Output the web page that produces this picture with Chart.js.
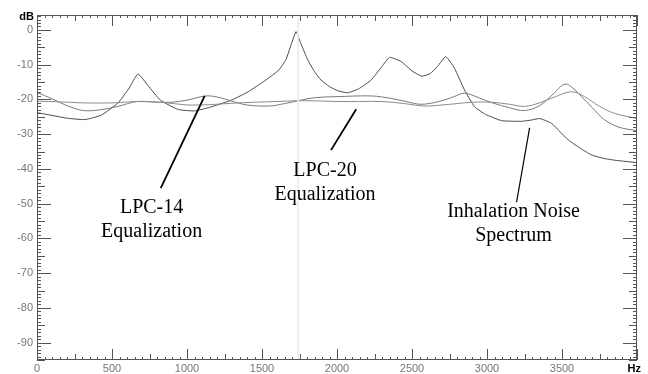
<!DOCTYPE html>
<html>
<head>
<meta charset="utf-8">
<script src="https://cdn.jsdelivr.net/npm/chart.js@4/dist/chart.umd.min.js"></script>
<style>
  html, body { margin: 0; padding: 0; background: #fff; }
  #wrap { width: 648px; height: 374px; }
</style>
</head>
<body>
<div id="wrap"><canvas id="spec" width="648" height="374"></canvas></div>
<script>
// spectrum of the inhalation noise and the two LPC equalization curves

const xTicks = [0, 500, 1000, 1500, 2000, 2500, 3000, 3500];
const yTicks = [0, -10, -20, -30, -40, -50, -60, -70, -80, -90];

// inhalation noise spectrum (the peaky one)
const specHz = [0, 100, 200, 320, 430, 540, 610, 673, 740, 822, 942, 1050, 1150, 1290, 1400, 1493,
    1570, 1613, 1660, 1700, 1727, 1760, 1805, 1850, 1893, 1950, 2005, 2072, 2150, 2228, 2300, 2350,
    2428, 2500, 2565, 2620, 2670, 2725, 2783, 2850, 2917, 2990, 3097, 3230, 3300, 3353, 3431, 3480,
    3543, 3620, 3698, 3780, 3853, 4000];
const specDb = [-23.8, -24.6, -25.4, -25.8, -24.5, -21, -17, -12.7, -16, -20.2, -22.9, -23.3, -22.3, -20.3, -18, -15.4,
    -13, -11.5, -8.5, -3.5, -0.5, -4, -8.6, -12, -14.4, -16.3, -17.5, -18.1, -16.8, -14.4, -10.5, -7.9,
    -9.1, -11.8, -13.3, -12.6, -10.5, -7.7, -11, -17.3, -22.1, -24.3, -26.1, -26.3, -25.9, -25.5, -26.9, -29,
    -31.7, -34, -36, -37, -37.5, -38.2];

// LPC-14 equalization
const lpc14Hz = [0, 100, 200, 310, 420, 540, 668, 800, 900, 1000, 1125, 1200, 1300, 1400, 1550, 1650,
    1750, 1850, 2000, 2230, 2360, 2460, 2560, 2680, 2780, 2850, 2950, 3030, 3150, 3250, 3350, 3440,
    3520, 3580, 3630, 3700, 3785, 3880, 4000];
const lpc14Db = [-18, -19.8, -21.8, -23.2, -23, -22, -20.6, -20.8, -20.8, -20.2, -19, -19.3, -20.5, -21.6, -21.9, -21.2,
    -20.3, -19.5, -19.2, -19, -19.7, -20.6, -21.4, -20.6, -19.2, -18.2, -19.6, -20.9, -22.4, -23.2, -21.8, -18.5,
    -15.6, -17, -19.2, -22.3, -25.9, -28, -29];

// LPC-20 equalization
const lpc20Hz = [0, 150, 310, 500, 668, 850, 1000, 1150, 1300, 1450, 1600, 1714, 1850, 2000, 2150, 2300,
    2450, 2580, 2700, 2800, 2900, 3030, 3150, 3250, 3350, 3450, 3563, 3650, 3750, 3850, 4000];
const lpc20Db = [-20.5, -20.7, -21, -21, -20.6, -20.9, -21.6, -21.5, -21.1, -20.8, -20.6, -20.4, -20.4, -20.6, -20.6, -20.6,
    -21.2, -21.9, -21.6, -21.2, -20.8, -20.8, -21.4, -22, -21, -19.3, -17.8, -19.2, -22, -24, -25.5];

// analyser cursor line
const cursorHz = [1740, 1740];
const cursorDb = [4.3, -95];

const toPts = (xs, ys) => xs.map((x, i) => ({ x: x, y: ys[i] }));

const notes = [
    { lines: ['LPC-14', 'Equalization'], at: [764, -51.2], from: [825, -45.5], to: [1118, -19.0], w: 1.8 },
    { lines: ['LPC-20', 'Equalization'], at: [1920, -40.6], from: [1960, -34.6], to: [2128, -22.8], w: 1.8 },
    { lines: ['Inhalation Noise', 'Spectrum'], at: [3177, -52.2], from: [3197, -49.6], to: [3284, -28.2], w: 1.2 }
];

const frameTicks = {
    id: 'frameTicks',
    afterDraw(chart) {
        const { ctx, chartArea: a, scales: { x, y } } = chart;
        ctx.save();
        ctx.strokeStyle = '#555';
        ctx.lineWidth = 1;
        ctx.strokeRect(a.left + 0.5, a.top + 0.5, a.right - a.left - 1, a.bottom - a.top - 1);
        ctx.beginPath();
        for (let hz = 0; hz <= 4000; hz += 50) {
            const px = Math.round(x.getPixelForValue(hz)) + 0.5;
            const len = hz % 500 === 0 ? 11 : (hz % 250 === 0 ? 6 : 3);
            ctx.moveTo(px, a.bottom);
            ctx.lineTo(px, a.bottom - len);
            ctx.moveTo(px, a.top);
            ctx.lineTo(px, a.top + len);
        }
        for (let db = -95; db <= 4; db++) {
            const py = Math.round(y.getPixelForValue(db)) + 0.5;
            const len = db % 10 === 0 ? 14 : (db % 5 === 0 ? 8 : 4);
            ctx.moveTo(a.left, py);
            ctx.lineTo(a.left + len, py);
            ctx.moveTo(a.right, py);
            ctx.lineTo(a.right - len, py);
        }
        ctx.stroke();

        ctx.fillStyle = '#000';
        ctx.font = 'bold 11px "Liberation Sans", Arial, sans-serif';
        ctx.textAlign = 'right';
        ctx.textBaseline = 'middle';
        ctx.fillText('dB', a.left - 3, 17);
        ctx.fillText('Hz', 641, 369);

        ctx.strokeStyle = '#000';
        ctx.font = '20px "Liberation Serif", "Times New Roman", serif';
        ctx.textAlign = 'center';
        for (const n of notes) {
            ctx.lineWidth = n.w;
            ctx.beginPath();
            ctx.moveTo(x.getPixelForValue(n.from[0]), y.getPixelForValue(n.from[1]));
            ctx.lineTo(x.getPixelForValue(n.to[0]), y.getPixelForValue(n.to[1]));
            ctx.stroke();
            const cx = x.getPixelForValue(n.at[0]);
            const cy = y.getPixelForValue(n.at[1]);
            n.lines.forEach((t, i) => ctx.fillText(t, cx, cy + i * 24));
        }
        ctx.restore();
    }
};

const tickFont = { family: '"Liberation Sans", Arial, sans-serif', size: 11 };

new Chart(document.getElementById('spec'), {
    type: 'line',
    data: {
        datasets: [
            { label: 'cursor', data: toPts(cursorHz, cursorDb), borderColor: '#ececec', borderWidth: 1, pointRadius: 0 },
            { label: 'LPC-20 Equalization', data: toPts(lpc20Hz, lpc20Db), borderColor: '#8c8c8c', borderWidth: 1, pointRadius: 0, tension: 0.35 },
            { label: 'LPC-14 Equalization', data: toPts(lpc14Hz, lpc14Db), borderColor: '#7a7a7a', borderWidth: 1, pointRadius: 0, tension: 0.35 },
            { label: 'Inhalation Noise Spectrum', data: toPts(specHz, specDb), borderColor: '#4a4a4a', borderWidth: 1, pointRadius: 0, tension: 0.15 }
        ]
    },
    options: {
        responsive: false,
        animation: false,
        layout: { padding: { left: 0, right: 11, top: 15, bottom: 0 } },
        plugins: { legend: { display: false }, tooltip: { enabled: false } },
        scales: {
            x: {
                type: 'linear',
                min: 0,
                max: 4000,
                afterFit: s => { s.height = 14; },
                grid: { display: false, drawTicks: false },
                border: { display: false },
                ticks: {
                    stepSize: 500, autoSkip: false, maxRotation: 0, padding: 2,
                    color: '#777', font: tickFont,
                    callback: v => xTicks.includes(v) ? String(v) : null
                }
            },
            y: {
                min: -95,
                max: 4.3,
                afterFit: s => { s.width = 37; },
                grid: { display: false, drawTicks: false },
                border: { display: false },
                ticks: {
                    stepSize: 10, autoSkip: false, padding: 4,
                    color: '#777', font: tickFont,
                    callback: v => yTicks.includes(v) ? String(v) : null
                }
            }
        }
    },
    plugins: [frameTicks]
});
</script>
</body>
</html>
